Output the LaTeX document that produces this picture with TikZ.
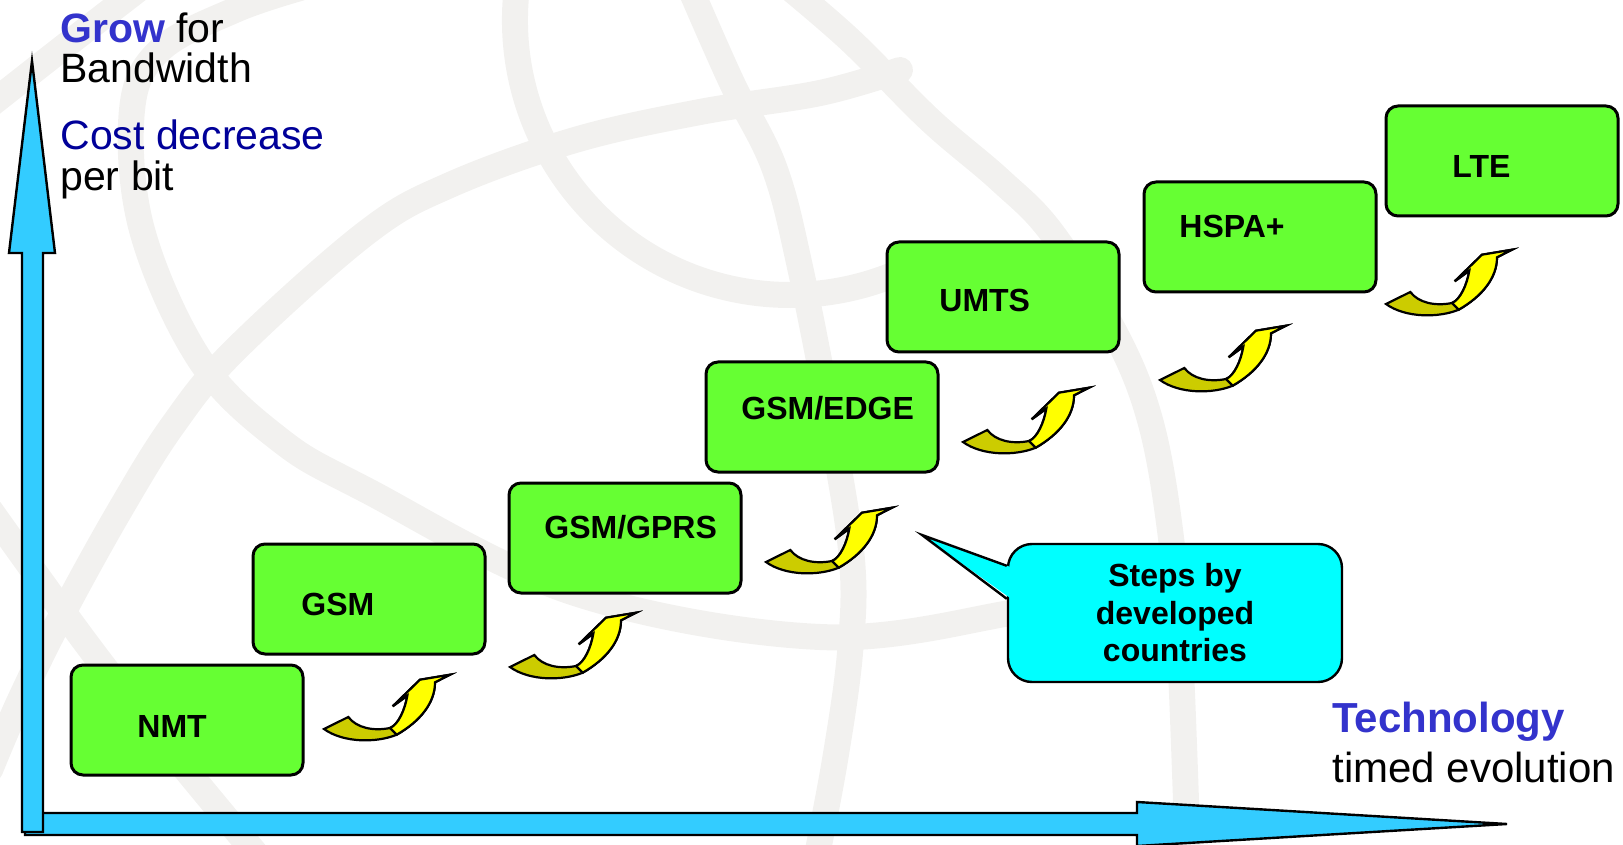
\documentclass[tikz,border=0pt]{standalone}
\usepackage{fontspec}
\setmainfont{Liberation Sans}
\usetikzlibrary{calc}

\definecolor{stepgreen}{HTML}{66FF33}
\definecolor{axisblue}{HTML}{33CCFF}
\definecolor{calloutcyan}{HTML}{00FFFF}
\definecolor{swooshyellow}{HTML}{FFFF00}
\definecolor{swoosholive}{HTML}{CCCC00}
\definecolor{growblue}{HTML}{3333CC}
\definecolor{costblue}{HTML}{000099}
\definecolor{globegray}{HTML}{F2F1EF}

\tikzset{
  globeband/.style={draw=globegray, line width=13pt, line cap=round},
  axisarrow/.style={draw=black, line width=1.2pt, fill=axisblue},
  stepbox/.style={draw=black, line width=1.5pt, fill=stepgreen, rounded corners=6pt,
    minimum width=116pt, minimum height=55pt, inner sep=0pt},
  steplbl/.style={anchor=base west, inner sep=0pt, font=\bfseries\fontsize{16}{19}\selectfont},
  axistxt/.style={anchor=base west, inner sep=0pt, font=\fontsize{20.5}{24}\selectfont},
  swooshback/.style={draw=black, line width=1.1pt, fill=swoosholive, line join=miter},
  swooshfront/.style={draw=black, line width=1.1pt, fill=swooshyellow, line join=miter},
  calloutbox/.style={draw=black, line width=1.2pt, fill=calloutcyan, rounded corners=12pt,
    minimum width=167pt, minimum height=69pt, inner sep=0pt, align=center,
    font=\bfseries\fontsize{16}{18.75}\selectfont}
}

\begin{document}
\begin{tikzpicture}[x=0.5pt, y=-0.5pt]
    \useasboundingbox (0,0) rectangle (1623,845);
    % globe in the background
    \draw[globeband] plot[smooth, tension=0.6] coordinates {(300,-12) (235,10) (160,50) (132,110) (142,230) (200,360) (280,440) (366,490) (575,593) (820,637) (1010,613) (1100,590)};
    \draw[globeband] plot[smooth, tension=0.6] coordinates {(900,70) (820,93) (700,112) (575,140) (450,185) (366,233) (235,350) (173,425) (120,510) (63,613) (20,700) (-10,770)};
    \draw[globeband] plot[smooth, tension=0.6] coordinates {(690,-12) (732,83) (774,167) (800,267) (831,425) (852,560) (850,653) (835,760) (816,860)};
    \draw[globeband] plot[smooth, tension=0.6] coordinates {(780,-20) (850,40) (930,120) (1000,180) (1052,233) (1115,333) (1150,420) (1170,530) (1180,650) (1188,860)};
    \draw[globeband] plot[smooth, tension=0.6] coordinates {(-10,510) (89,647) (170,750) (261,860)};
    \draw[globeband] plot[smooth, tension=0.6] coordinates {(-10,105) (60,50) (140,-12)};
    \draw[globeband] (790,20) ++(190:275) arc[start angle=190, end angle=60, radius=275];

    % axes
    \draw[axisarrow] (25,813) -- (1137,813) -- (1137,802) -- (1507,824) -- (1137,846) -- (1137,835) -- (25,835) -- cycle;
    \draw[axisarrow] (22,832) -- (22,253) -- (9,253) -- (32,61) -- (55,253) -- (43,253) -- (43,832) -- cycle;
    \node (grow) [axistxt] at (60,43) {\textbf{\color{growblue}Grow} for};
    \node (bandw) [axistxt] at (60,83) {Bandwidth};
    \node (cost) [axistxt, text=costblue] at (60,150) {Cost decrease};
    \node (perbit) [axistxt] at (60,191) {per bit};
    \node (tech) [axistxt, font=\bfseries\fontsize{21}{24}\selectfont, text=growblue] at (1332,732) {Technology};
    \node (timed) [axistxt, font=\fontsize{21}{24}\selectfont] at (1332,782) {timed evolution};

    % technology steps
    \node (nmt) [stepbox] at (187,720) {};
    \node (gsm) [stepbox] at (369,599) {};
    \node (gprs) [stepbox] at (625,538) {};
    \node (edge) [stepbox] at (822,417) {};
    \node (umts) [stepbox] at (1003,297) {};
    \node (hspa) [stepbox] at (1260,237) {};
    \node (lte) [stepbox] at (1502,161) {};
    \node (nmtlbl) [steplbl] at (137,737) {NMT};
    \node (gsmlbl) [steplbl] at (301,615) {GSM};
    \node (gprslbl) [steplbl] at (544,538) {GSM/GPRS};
    \node (edgelbl) [steplbl] at (741,419) {GSM/EDGE};
    \node (umtslbl) [steplbl] at (939,312) {UMTS};
    \node (hspalbl) [steplbl] at (1179,238) {HSPA+};
    \node (ltelbl) [steplbl] at (1452,178) {LTE};

    % curved arrows between the steps
    \foreach \sx/\sy in {324/729, 510/667, 766/562, 963/442, 1160/380, 1386/304} {
      \begin{scope}[shift={(\sx,\sy)}]
        \draw[swooshback] (0,0) -- (24.3,-12) .. controls (32.7,-1) and (49.3,2.3) .. (66,-1)
          .. controls (74.3,-4.3) and (81,-19.3) .. (83.3,-33.3) -- (68.7,-22.7) -- (96,-49.3)
          -- (126,-54.3) -- (111,-46.7) .. controls (111,-26) and (96,-7.7) .. (72.7,5.7)
          .. controls (52.7,14) and (19.3,14) .. cycle;
        \draw[swooshfront] (66,-1) .. controls (74.3,-4.3) and (81,-19.3) .. (83.3,-33.3)
          -- (68.7,-22.7) -- (96,-49.3) -- (126,-54.3) -- (111,-46.7)
          .. controls (111,-26) and (96,-7.7) .. (72.7,5.7) -- cycle;
      \end{scope}
    }

    % callout
    \node (steps) [calloutbox] at (1175,613) {Steps by\\developed\\countries};
    \coordinate (steptip) at (922,535);
    \fill[calloutcyan] (steptip) -- ($(steps.north west)+(3,24)$) -- ($(steps.north west)+(3,55)$) -- cycle;
    \draw[line width=1.2pt] ($(steps.north west)+(0,23)$) -- (steptip) -- ($(steps.north west)+(0,56)$);
\end{tikzpicture}
\end{document}
